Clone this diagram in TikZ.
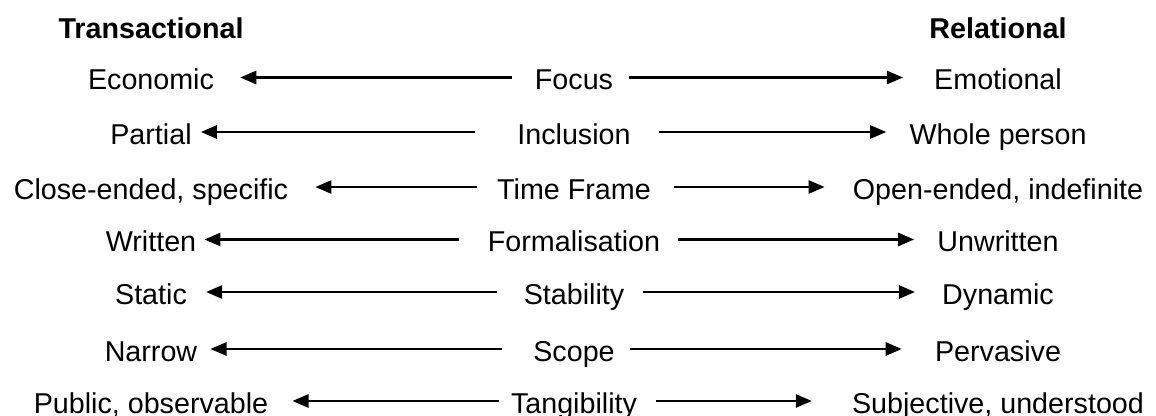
\documentclass[tikz,border=0pt]{standalone}
\usepackage{fontspec}
\setmainfont{Liberation Sans}
\usetikzlibrary{arrows.meta}

\tikzset{
  lbl/.style={font=\fontsize{20.4}{24}\selectfont, inner sep=0pt,
    text height=0.6cm, text depth=0pt, anchor=base},
  head/.style={lbl, font=\fontsize{20.4}{24}\selectfont\bfseries},
  arr/.style={-{Triangle[length=0.4cm, width=0.33cm]}, line width=1.5pt}
}

\begin{document}
\begin{tikzpicture}[x=0.025cm, y=-0.025cm]
  \useasboundingbox (0,0) rectangle (1156,415);

  % --- column headings ---
  \node[head] (trans) at (151,38) {Transactional};
  \node[head] (rel)   at (998,38) {Relational};

  % --- Focus ---
  \node[lbl] (econ)  at (151,89.5) {Economic};
  \node[lbl] (focus) at (574,89.5) {Focus};
  \node[lbl] (emot)  at (998,89.5) {Emotional};
  \draw[arr, shorten <=0.575cm, shorten >=0.65cm] (focus.west) -- (econ.east);
  \draw[arr, shorten <=0.4cm, shorten >=0.775cm] (focus.east) -- (emot.west);

  % --- Inclusion ---
  \node[lbl] (part)  at (151,144) {Partial};
  \node[lbl] (incl)  at (574,144) {Inclusion};
  \node[lbl] (whole) at (998,144) {Whole person};
  \draw[arr, shorten <=1.05cm, shorten >=0.225cm] (incl.west) -- (part.east);
  \draw[arr, shorten <=0.7cm, shorten >=0.575cm] (incl.east) -- (whole.west);

  % --- Time Frame ---
  \node[lbl] (close) at (151,199) {Close-ended, specific};
  \node[lbl] (time)  at (574,199) {Time Frame};
  \node[lbl] (open)  at (998,199) {Open-ended, indefinite};
  \draw[arr, shorten <=0.5cm, shorten >=0.675cm] (time.west) -- (close.east);
  \draw[arr, shorten <=0.575cm, shorten >=0.7cm] (time.east) -- (open.west);

  % --- Formalisation ---
  \node[lbl] (writ)   at (151,251.5) {Written};
  \node[lbl] (formal) at (574,251.5) {Formalisation};
  \node[lbl] (unwrit) at (998,251.5) {Unwritten};
  \draw[arr, shorten <=0.725cm, shorten >=0.2cm] (formal.west) -- (writ.east);
  \draw[arr, shorten <=0.45cm, shorten >=0.575cm] (formal.east) -- (unwrit.west);

  % --- Stability ---
  \node[lbl] (static) at (151,304) {Static};
  \node[lbl] (stab)   at (574,304) {Stability};
  \node[lbl] (dyn)    at (998,304) {Dynamic};
  \draw[arr, shorten <=0.65cm, shorten >=0.475cm] (stab.west) -- (static.east);
  \draw[arr, shorten <=0.45cm, shorten >=0.675cm] (stab.east) -- (dyn.west);

  % --- Scope ---
  \node[lbl] (narrow) at (151,361) {Narrow};
  \node[lbl] (scope)  at (574,361) {Scope};
  \node[lbl] (perv)   at (998,361) {Pervasive};
  \draw[arr, shorten <=0.775cm, shorten >=0.325cm] (scope.west) -- (narrow.east);
  \draw[arr, shorten <=0.375cm, shorten >=0.825cm] (scope.east) -- (perv.west);

  % --- Tangibility ---
  \node[lbl] (pub)  at (151,413) {Public, observable};
  \node[lbl] (tang) at (574,413) {Tangibility};
  \node[lbl] (subj) at (998,413) {Subjective, understood};
  \draw[arr, shorten <=0.3cm, shorten >=0.6cm] (tang.west) -- (pub.east);
  \draw[arr, shorten <=0.475cm, shorten >=1.0cm] (tang.east) -- (subj.west);
\end{tikzpicture}
\end{document}
